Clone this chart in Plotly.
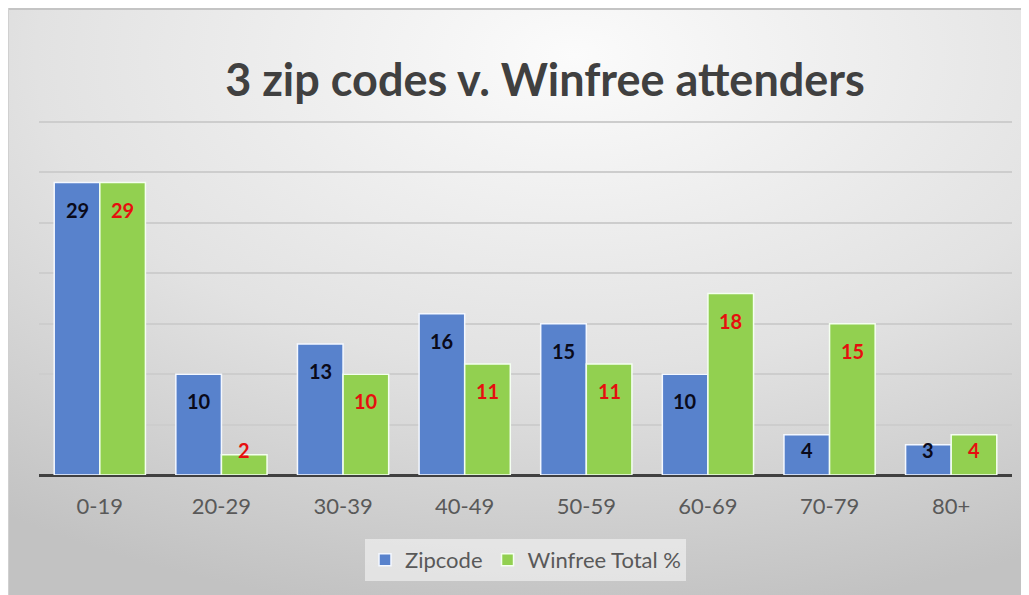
import base64
import plotly.graph_objects as go

categories = ["0-19", "20-29", "30-39", "40-49", "50-59", "60-69", "70-79", "80+"]
zipcode = [29, 10, 13, 16, 15, 10, 4, 3]
winfree = [29, 2, 10, 11, 11, 18, 15, 4]
series_names = ["Zipcode", "Winfree Total %"]
title_text = "3 zip codes v. Winfree attenders"

BLUE = "#5882cc"
GREEN = "#92d050"
FONT = "Lato"

W, H = 1029, 595
L, R, T, B = 31, 25, 111, 128
pw, ph = W - L - R, H - T - B

fig = go.Figure()
fig.add_trace(go.Bar(x=categories, y=zipcode, name=series_names[0],
                     marker=dict(color=BLUE, line=dict(color="#f4f8ff", width=1.5))))
fig.add_trace(go.Bar(x=categories, y=winfree, name=series_names[1],
                     marker=dict(color=GREEN, line=dict(color="#f4fff0", width=1.5))))

bargap = 0.25
half = (1 - bargap) / 4
annotations = []
for i in range(len(categories)):
    for vals, off, col in ((zipcode, -half, "#0a0a1a"), (winfree, half, "#e60f0f")):
        v = vals[i]
        annotations.append(dict(x=i + off, y=max(v - 2.7, 2.5), xref="x", yref="y",
                                text=f"<b>{v}</b>", showarrow=False, yanchor="middle",
                                font=dict(family=FONT, size=20, color=col)))

# background gradient image (chart frame)
svg = ('<svg xmlns="http://www.w3.org/2000/svg" width="1029" height="595" preserveAspectRatio="none">'
       '<defs><radialGradient id="g" cx="55%" cy="8%" r="95%" gradientUnits="objectBoundingBox">'
       '<stop offset="0" stop-color="#fbfbfb"/><stop offset="0.55" stop-color="#e2e2e2"/>'
       '<stop offset="1" stop-color="#c2c2c2"/></radialGradient></defs>'
       '<rect width="1029" height="595" fill="url(#g)"/></svg>')
src = "data:image/svg+xml;base64," + base64.b64encode(svg.encode()).decode()

def px2x(p):
    return (p - L) / pw
def py2y(p):
    return (H - B - p) / ph

fig.update_layout(
    width=W, height=H,
    margin=dict(l=L, r=R, t=T, b=B),
    paper_bgcolor="#e0e0e0",
    plot_bgcolor="rgba(0,0,0,0)",
    barmode="group", bargap=bargap, bargroupgap=0,
    font=dict(family=FONT, color="#595959"),
    title=dict(text=f"<b>{title_text}</b>", x=537 / W, xref="container", xanchor="center",
               y=1 - 72 / H, yref="container", yanchor="middle",
               font=dict(family=FONT, size=45, color="#404040")),
    showlegend=True,
    legend=dict(orientation="h", x=0.5, xanchor="center", y=py2y(552), yanchor="middle",
                bgcolor="rgba(240,240,240,0.7)", font=dict(family=FONT, size=22, color="#595959"),
                itemwidth=30, traceorder="normal"),
    annotations=annotations,
    images=[dict(source=src, xref="paper", yref="paper", x=px2x(0), y=py2y(0),
                 sizex=W / pw, sizey=H / ph, sizing="stretch",
                 xanchor="left", yanchor="top", layer="below")],
    shapes=[dict(type="line", xref="paper", yref="paper", x0=px2x(0), x1=px2x(W),
                 y0=py2y(1), y1=py2y(1), line=dict(color="#c4c4c4", width=2), layer="below"),
            dict(type="line", xref="paper", yref="paper", x0=px2x(0.5), x1=px2x(0.5),
                 y0=py2y(0), y1=py2y(H), line=dict(color="#d0d0d0", width=1), layer="below")],
)
fig.update_xaxes(showgrid=False, ticks="", tickfont=dict(family=FONT, size=22, color="#595959"),
                 ticklabelstandoff=16, showline=False)
fig.update_yaxes(range=[0, 35.3], tickvals=[5, 10, 15, 20, 25, 30, 35], showticklabels=False,
                 showgrid=True, gridcolor="#cdcdcd", gridwidth=1.5, zeroline=True,
                 zerolinecolor="#404040", zerolinewidth=3, showline=False)

fig.write_html("out.html")
